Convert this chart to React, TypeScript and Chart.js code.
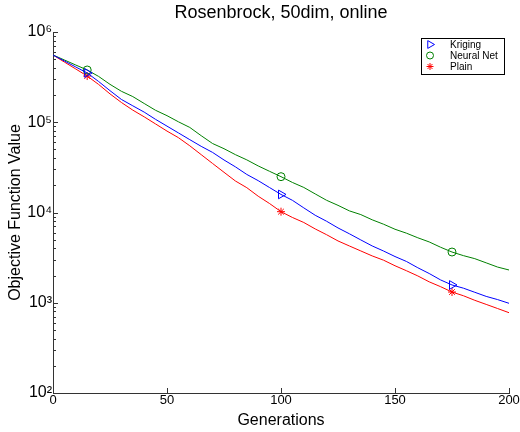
import React, { useEffect, useRef } from 'react';
import { Chart, registerables } from 'chart.js';

Chart.register(...registerables);

const generations = [
  0, 5, 10, 15, 20, 25, 30, 35, 40, 45, 50, 55, 60, 65, 70, 75, 80, 85, 90, 95, 100,
  105, 110, 115, 120, 125, 130, 135, 140, 145, 150, 155, 160, 165, 170, 175, 180, 185, 190, 195, 200,
];

const kriging = [
  555900, 477500, 409300, 351600, 283000, 223900, 178900, 152100, 129500, 107600, 90570,
  76210, 64120, 54080, 46300, 38190, 32060, 26400, 22540, 18880, 15850, 13650, 11250,
  9320, 7998, 6745, 5810, 4966, 4260, 3741, 3251, 2870, 2443, 2109, 1790, 1574, 1451,
  1306, 1176, 1084, 986,
];

const neuralNet = [
  555900, 489800, 430500, 379300, 322000, 263000, 220300, 192500, 161400, 135600, 118300,
  101200, 87600, 70960, 58100, 50930, 43750, 38300, 32810, 28580, 24950, 21530, 18950,
  16070, 13650, 12000, 10420, 9480, 8299, 7413, 6520, 5902, 5248, 4720, 4121, 3648, 3327,
  3080, 2767, 2485, 2307,
];

const plain = [
  555900, 464500, 389000, 325100, 262500, 206100, 165600, 136200, 114800, 95720, 79800,
  67500, 54830, 43750, 34910, 27900, 22340, 18840, 15150, 12560, 10210, 8810, 7750,
  6577, 5675, 4840, 4256, 3750, 3304, 2960, 2570, 2265, 1982, 1705, 1507, 1315, 1196,
  1064, 959, 863, 776,
];

const markerGenerations = [15, 100, 175];
const xTickValues = [0, 50, 100, 150, 200];
const yDecades = [2, 3, 4, 5, 6];
const seriesLabels = ['Kriging', 'Neural Net', 'Plain'];
const seriesColors = ['#0000ff', '#008000', '#ff0000'];
const seriesValues = [kriging, neuralNet, plain];
const seriesStyles = ['triangle', 'circle', 'star'];
const seriesRotation = [90, 0, 0];
const seriesMarkerSize = [5, 4, 4];

const FONT = "'Liberation Sans', Arial, Helvetica, sans-serif";
const SUP: Record<string, string> = {
  '0': '⁰', '1': '¹', '2': '²', '3': '³', '4': '⁴', '5': '⁵', '6': '⁶', '7': '⁷', '8': '⁸', '9': '⁹',
};
const AXIS = '#333333';

function drawMarker(ctx: CanvasRenderingContext2D, style: string, x: number, y: number, r: number, rotDeg: number) {
  ctx.beginPath();
  if (style === 'circle') {
    ctx.arc(x, y, r, 0, Math.PI * 2);
  } else if (style === 'triangle') {
    let rad = (rotDeg * Math.PI) / 180;
    ctx.moveTo(x + Math.sin(rad) * r, y - Math.cos(rad) * r);
    for (let i = 0; i < 2; i++) {
      rad += (2 * Math.PI) / 3;
      ctx.lineTo(x + Math.sin(rad) * r, y - Math.cos(rad) * r);
    }
    ctx.closePath();
  } else {
    for (let i = 0; i < 4; i++) {
      const a = (i * Math.PI) / 4;
      ctx.moveTo(x - Math.cos(a) * r, y - Math.sin(a) * r);
      ctx.lineTo(x + Math.cos(a) * r, y + Math.sin(a) * r);
    }
  }
  ctx.stroke();
}

const inwardTicks = {
  id: 'inwardTicks',
  afterDatasetsDraw(chart: any) {
    const { ctx, chartArea, scales } = chart;
    ctx.save();
    ctx.strokeStyle = AXIS;
    ctx.lineWidth = 1;
    ctx.beginPath();
    for (const t of xTickValues) {
      const px = Math.round(scales.x.getPixelForValue(t)) + 0.5;
      ctx.moveTo(px, chartArea.bottom);
      ctx.lineTo(px, chartArea.bottom - 5);
    }
    for (const e of yDecades) {
      for (let m = 1; m < 10; m++) {
        const v = m * Math.pow(10, e);
        if (v > 1e6) break;
        const py = Math.round(scales.y.getPixelForValue(v)) + 0.5;
        const len = m === 1 ? 5 : 3;
        ctx.moveTo(chartArea.left, py);
        ctx.lineTo(chartArea.left + len, py);
      }
    }
    ctx.stroke();
    ctx.restore();
  },
};

const boxedLegend = {
  id: 'boxedLegend',
  afterDraw(chart: any) {
    const { ctx, chartArea } = chart;
    const bx = chartArea.right - 88;
    const by = chartArea.top + 6;
    const bw = 83;
    const bh = 36;
    ctx.save();
    ctx.fillStyle = '#ffffff';
    ctx.fillRect(bx, by, bw, bh);
    ctx.strokeStyle = '#000000';
    ctx.lineWidth = 1;
    ctx.strokeRect(Math.round(bx) + 0.5, Math.round(by) + 0.5, bw, bh);
    ctx.font = `10px ${FONT}`;
    ctx.textBaseline = 'middle';
    ctx.textAlign = 'left';
    chart.data.datasets.forEach((ds: any, i: number) => {
      const yy = by + 6.5 + i * 11;
      ctx.strokeStyle = ds.borderColor;
      ctx.lineWidth = 1;
      drawMarker(ctx, seriesStyles[i], bx + 9, yy, seriesMarkerSize[i] - 0.5, seriesRotation[i]);
      ctx.fillStyle = '#000000';
      ctx.fillText(ds.label, bx + 29, yy + 0.5);
    });
    ctx.restore();
  },
};

export default function App() {
  const canvasRef = useRef<HTMLCanvasElement | null>(null);

  useEffect(() => {
    const canvas = canvasRef.current;
    if (!canvas) return;
    const datasets = seriesLabels.map((label, i) => ({
      label,
      data: generations.map((g, j) => ({ x: g, y: seriesValues[i][j] })),
      borderColor: seriesColors[i],
      backgroundColor: seriesColors[i],
      borderWidth: 1,
      tension: 0,
      fill: false,
      pointStyle: seriesStyles[i],
      rotation: seriesRotation[i],
      pointBackgroundColor: 'rgba(0,0,0,0)',
      pointBorderColor: seriesColors[i],
      pointBorderWidth: 1,
      pointRadius: (c: any) => (c.raw && markerGenerations.includes(c.raw.x) ? seriesMarkerSize[i] : 0),
      pointHoverRadius: 0,
    }));

    const chart = new Chart(canvas, {
      type: 'line',
      data: { datasets },
      options: {
        animation: false,
        responsive: false,
        devicePixelRatio: 1,
        events: [],
        layout: { padding: { left: 0, right: 11, top: 0, bottom: 0 } },
        plugins: {
          legend: { display: false },
          tooltip: { enabled: false },
          title: {
            display: true,
            text: 'Rosenbrock, 50dim, online',
            color: '#000000',
            fullSize: false,
            font: { family: FONT, size: 18, weight: 'normal' },
            padding: { top: 2, bottom: 8.4 },
          },
        },
        scales: {
          x: {
            type: 'linear',
            min: 0,
            max: 200,
            afterBuildTicks: (scale: any) => {
              scale.ticks = xTickValues.map((v) => ({ value: v }));
            },
            afterFit: (scale: any) => {
              scale.height = 39;
            },
            ticks: {
              color: '#000000',
              font: { family: FONT, size: 13 },
              padding: 0,
              autoSkip: false,
              maxRotation: 0,
            },
            grid: { display: false, drawTicks: false },
            border: { display: true, color: AXIS, width: 1 },
            title: {
              display: true,
              text: 'Generations',
              color: '#000000',
              font: { family: FONT, size: 16 },
              padding: { top: 0, bottom: 2 },
            },
          },
          y: {
            type: 'logarithmic',
            min: 100,
            max: 1e6,
            afterBuildTicks: (scale: any) => {
              scale.ticks = yDecades.map((e) => ({ value: Math.pow(10, e) }));
            },
            afterFit: (scale: any) => {
              scale.width = 53;
            },
            ticks: {
              color: '#000000',
              font: { family: FONT, size: 16 },
              padding: 1,
              autoSkip: false,
              callback: (value: any) => {
                const e = Math.round(Math.log10(Number(value)));
                return '10' + String(e).split('').map((d) => SUP[d]).join('');
              },
            },
            grid: { display: false, drawTicks: false },
            border: { display: true, color: AXIS, width: 1 },
            title: {
              display: true,
              text: 'Objective Function Value',
              color: '#000000',
              font: { family: FONT, size: 16 },
              padding: { top: 6, bottom: 2 },
            },
          },
        },
      } as any,
      plugins: [inwardTicks, boxedLegend],
    });

    return () => {
      chart.destroy();
    };
  }, []);

  return (
    <div style={{ position: 'fixed', left: 0, top: 0, width: 520, height: 432, background: '#ffffff' }}>
      <canvas ref={canvasRef} width={520} height={432} style={{ display: 'block' }} />
    </div>
  );
}
